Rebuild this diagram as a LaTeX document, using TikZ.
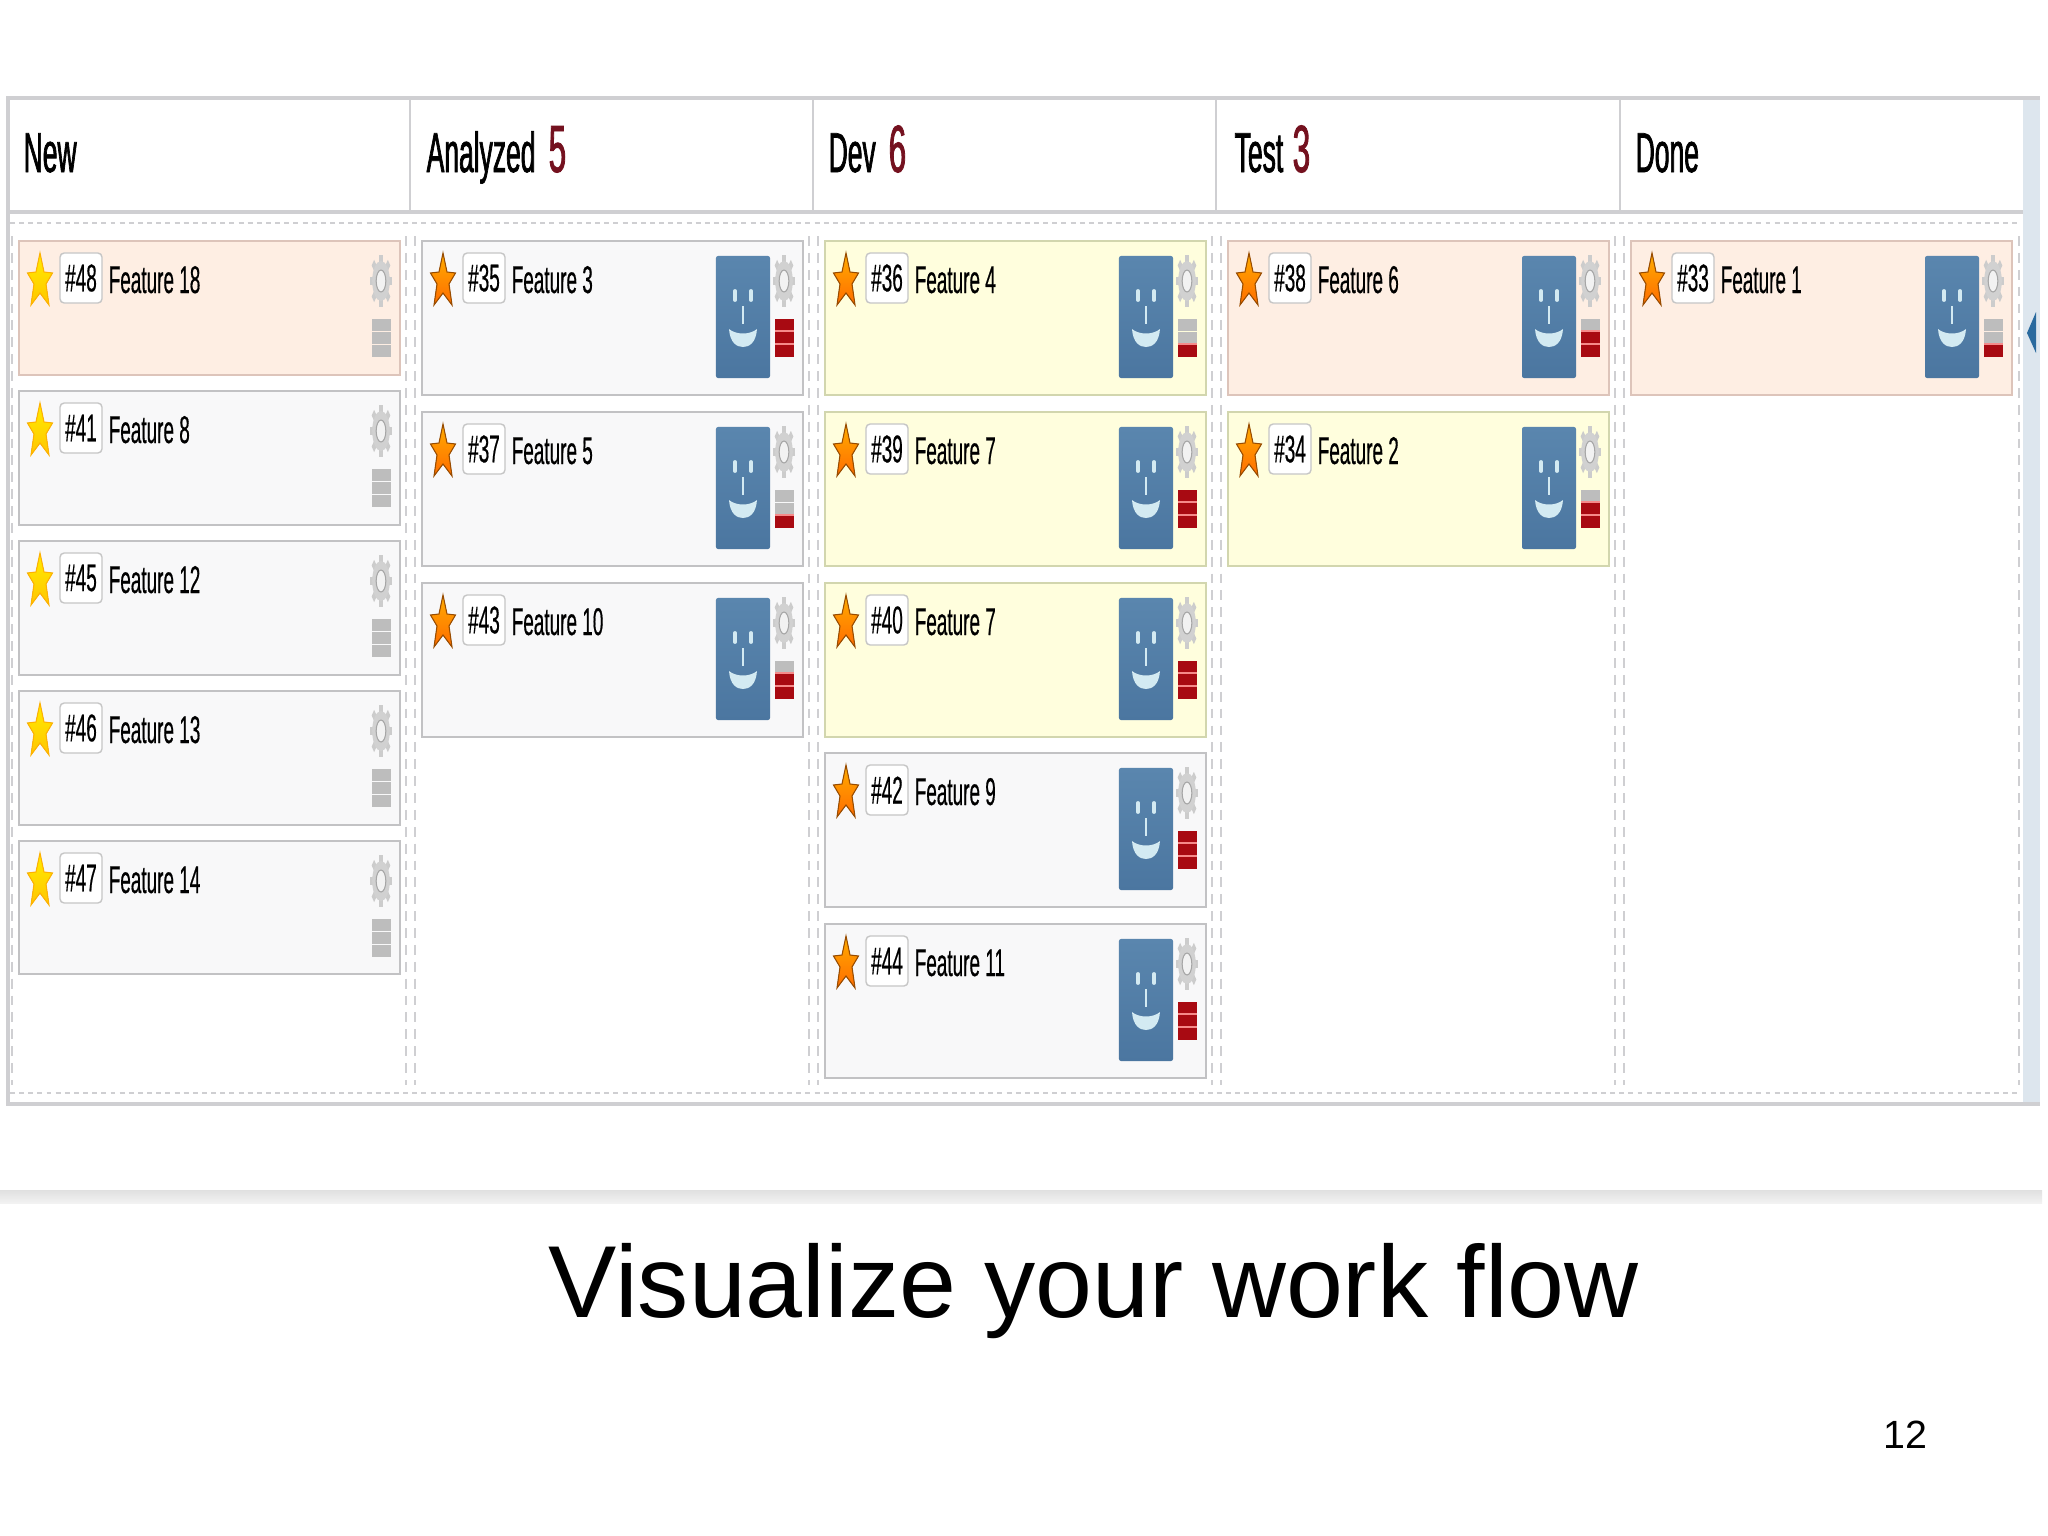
\documentclass[tikz,border=0pt]{standalone}
\usepackage{fontspec}
\setmainfont{Liberation Sans}
\newfontfamily\cardfont[FakeStretch=.49,FakeBold=.4]{Liberation Sans}
\newfontfamily\headfont[FakeStretch=.47,FakeBold=1.2]{Liberation Sans}
\usetikzlibrary{calc}

\definecolor{peachcard}{HTML}{FEEEE3}
\definecolor{peachcardline}{HTML}{DDC4BA}
\definecolor{yellowcard}{HTML}{FFFEDD}
\definecolor{yellowcardline}{HTML}{D2D6AE}
\definecolor{graycard}{HTML}{F8F8F9}
\definecolor{graycardline}{HTML}{C2C2C4}
\definecolor{gridline}{HTML}{CFCFD2}
\definecolor{bargray}{HTML}{BDBDBD}
\definecolor{barred}{HTML}{A80A12}
\definecolor{barglow}{HTML}{F58A8A}
\definecolor{countred}{HTML}{74111F}
\definecolor{stripblue}{HTML}{DDE6EE}
\definecolor{arrowblue}{HTML}{2A6A9E}
\definecolor{facetop}{HTML}{5A86AE}
\definecolor{facebottom}{HTML}{4B76A0}
\definecolor{facelight}{HTML}{D3EAF2}

\tikzset{
  card/.style={rectangle,anchor=north west,inner sep=0pt,line width=.45pt,minimum width=3.81cm},
  idchip/.style={rectangle,rounded corners=1.2pt,draw=gray!45,fill=white,line width=.4pt,
    minimum width=.42cm,minimum height=.50cm,inner sep=0pt,font=\cardfont\fontsize{11}{11}\selectfont},
  cardtext/.style={anchor=base west,inner sep=0pt,font=\cardfont\fontsize{11}{11}\selectfont},
  headtext/.style={anchor=base west,inner sep=0pt,font=\headfont\fontsize{16}{16}\selectfont},
  headcount/.style={anchor=base west,inner sep=0pt,text=countred,font=\headfont\fontsize{19}{19}\selectfont},
  gridrule/.style={draw=gridline,line width=.5pt},
  griddash/.style={draw=gridline,line width=.3pt,dash pattern=on 2.8pt off 2pt},
  griddot/.style={draw=gridline,line width=.6pt,dash pattern=on 1.4pt off 1.2pt},
  goldstar/.style={draw=orange!60!yellow,line width=.3pt,top color=yellow!85!orange,bottom color=orange!45!yellow},
  orangestar/.style={draw=orange!60!black,line width=.3pt,top color=orange!65!yellow,bottom color=orange!85!red},
  cardstar/.pic={
    \filldraw[thisstar] (0,-26) -- (4,-7) -- (12.5,-6) -- (6,5) -- (9,26) -- (0,14) -- (-9,26) -- (-6,5) -- (-12.5,-6) -- (-4,-7) -- cycle;
  },
  cardgear/.pic={
    \begin{scope}[xscale=.44]
      \foreach \a in {0,45,...,315}
        \fill[black!20,rotate=\a] (-4,-26) rectangle (4,-16);
      \fill[black!18] (0,0) circle (20);
      \filldraw[white!90!gray,draw=black!35,line width=.3pt] (0,0) circle (11);
    \end{scope}
  },
  cardface/.pic={
    \draw[facelight,line width=1.1pt,line cap=round] (-8,51) -- (-8,60) (8,51) -- (8,60);
    \draw[facelight,line width=.7pt] (0,66) -- (0,84);
    \fill[facelight] (-14,89) .. controls (-7,95) and (7,95) .. (14,89) .. controls (13,103) and (6,107) .. (0,107) .. controls (-6,107) and (-13,103) .. (-14,89) -- cycle;
  },
}

\begin{document}
\begin{tikzpicture}[x=.01cm,y=-.01cm]
\useasboundingbox (0,0) rectangle (2048,1536);
\fill[white] (0,0) rectangle (2048,1536);
% Board
\fill[stripblue] (2023,98) rectangle (2040,1104);
\fill[arrowblue] (2027,333) -- (2036,312) -- (2036,353) -- cycle;
\draw[gridrule,line width=.9pt] (2040,98) -- (8,98) -- (8,1104) -- (2040,1104);
\draw[gridrule,line width=.9pt] (8,212) -- (2023,212);
\foreach \x in {410,813,1216,1620}
  \draw[gridrule] (\x,98) -- (\x,212);
\draw[griddot] (10,223) -- (2020,223);
\draw[griddot] (10,1093) -- (2020,1093);
\foreach \x in {12,406,415,809,818,1212,1221,1615,1624,2019}
  \draw[griddash] (\x,236) -- (\x,1085);
% Headers
\foreach \x/\name/\lab in {23/hnew/New,426/hana/Analyzed,828/hdev/Dev,1234/htest/Test,1635/hdone/Done}
  \node[headtext] (\name) at (\x,172) {\lab};
\node[headcount] (cana) at (548,172) {5};
\node[headcount] (cdev) at (888,172) {6};
\node[headcount] (ctest) at (1292,172) {3};
% Cards
\foreach \x/\y/\h/\t/\id/\lab/\n in {
    19/240/134/peachcard/48/Feature 18/0,
    19/390/134/graycard/41/Feature 8/0,
    19/540/134/graycard/45/Feature 12/0,
    19/690/134/graycard/46/Feature 13/0,
    19/840/133/graycard/47/Feature 14/0,
    422/240/154/graycard/35/Feature 3/3,
    422/411/154/graycard/37/Feature 5/1,
    422/582/154/graycard/43/Feature 10/2,
    825/240/154/yellowcard/36/Feature 4/1,
    825/411/154/yellowcard/39/Feature 7/3,
    825/582/154/yellowcard/40/Feature 7/3,
    825/752/154/graycard/42/Feature 9/3,
    825/923/154/graycard/44/Feature 11/3,
    1228/240/154/peachcard/38/Feature 6/2,
    1228/411/154/yellowcard/34/Feature 2/2,
    1631/240/154/peachcard/33/Feature 1/1}
{
  \begin{scope}[shift={(\x,\y)}]
    \node[card,fill=\t,draw=\t line,minimum height=\h*.01cm] (c\id) at (-1,0) {};
    \ifnum\h<140 \tikzset{thisstar/.style={goldstar}}\else \tikzset{thisstar/.style={orangestar}}\fi
    \pic at (21,39) {cardstar};
    \node[idchip] (n\id) at (62,38) {\#\id};
    \node[cardtext] (t\id) at (89,53) {\lab};
    \pic at (362,41) {cardgear};
    \ifnum\h>140
      \node[rectangle,rounded corners=.6pt,minimum width=.54cm,minimum height=1.22cm,inner sep=0pt,
        top color=facetop,bottom color=facebottom] (a\id) at (321,77) {};
      \pic at (321,0) {cardface};
    \fi
    % Bar
    \pgfmathtruncatemacro{\g}{3-\n}
    \foreach \s in {0,1,2} {
      \ifnum\s<\g \def\barcol{bargray}\else \def\barcol{barred}\fi
      \ifnum\s<\g\else \ifnum\s>0 \fill[barglow] (353,77+13.2*\s) rectangle (372,79+13.2*\s); \fi\fi
      \fill[\barcol] (353,79+13.2*\s) rectangle (372,79+13.2*\s+11.6);
    }
  \end{scope}
}
% Footer
\shade[top color=black!12,bottom color=black!5] (0,1190) rectangle (2042,1203);
\node[anchor=base west,inner sep=0pt,font=\fontsize{29.1}{29.1}\selectfont] (title) at (548,1317) {Visualize your work flow};
\node[anchor=base west,inner sep=0pt,font=\fontsize{11.2}{11.2}\selectfont] (pageno) at (1883,1448) {12};
\end{tikzpicture}
\end{document}
